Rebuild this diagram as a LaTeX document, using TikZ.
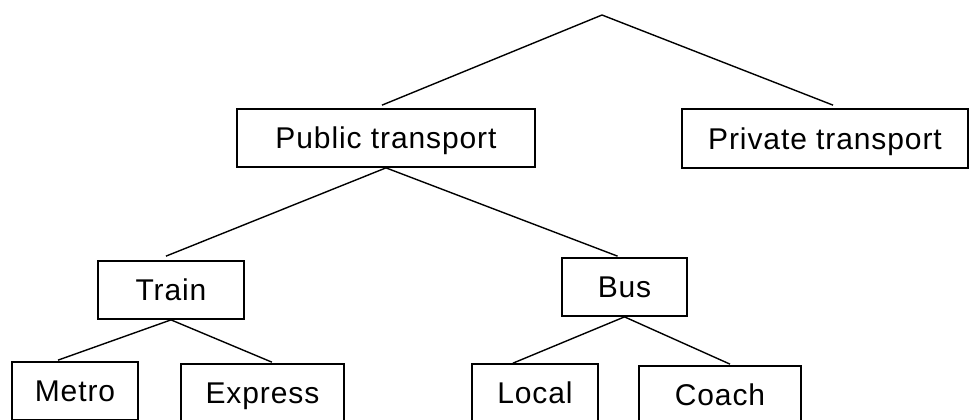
\documentclass[tikz,border=0pt]{standalone}
\usepackage{fontspec}
\setmainfont{Liberation Sans}[LetterSpace=3]
\begin{document}
\begin{tikzpicture}[x=0.75pt,y=-0.75pt,
  box/.style={draw, line width=1.3pt, inner sep=0pt, minimum height=43.5pt,
    text height=16.1pt, text depth=0pt,
    font=\fontsize{22.5}{27}\selectfont},
  link/.style={line width=1.05pt}]
\useasboundingbox (0,0) rectangle (970,419);
\coordinate (top) at (602,15);
\node[box, minimum width=223.5pt] (pub) at (386,138) {Public transport};
\node[box, minimum width=214.5pt, minimum height=44.25pt] (priv) at (825,138.5) {Private transport};
\node[box, minimum width=109.5pt] (train) at (171,290) {Train};
\node[box, minimum width=93.75pt] (bus) at (624.5,287) {Bus};
\node[box, minimum width=94.5pt] (metro) at (75,391) {Metro};
\node[box, minimum width=122.25pt] (express) at (262.5,393) {Express};
\node[box, minimum width=94.5pt] (local) at (535,393) {Local};
\node[box, minimum width=121.5pt] (coach) at (720,395) {Coach};
\draw[link] (top) -- ([xshift=-3pt,yshift=2.25pt]pub.north);
\draw[link] (top) -- ([xshift=6pt,yshift=2.25pt]priv.north);
\draw[link] (pub.south) -- ([xshift=-3.75pt,yshift=3pt]train.north);
\draw[link] (pub.south) -- ([xshift=-5.25pt,yshift=0.75pt]bus.north);
\draw[link] (train.south) -- ([xshift=-12.75pt,yshift=0.75pt]metro.north);
\draw[link] (train.south) -- ([xshift=7pt,yshift=0.75pt]express.north);
\draw[link] (bus.south) -- ([xshift=-16.5pt,yshift=0pt]local.north);
\draw[link] (bus.south) -- ([xshift=7.5pt,yshift=0.75pt]coach.north);
\end{tikzpicture}
\end{document}
